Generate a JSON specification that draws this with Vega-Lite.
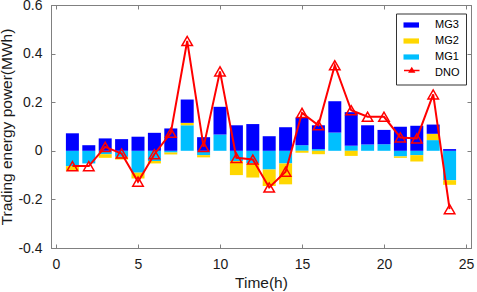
{
  "$schema": "https://vega.github.io/schema/vega-lite/v6.json",
  "width": 420,
  "height": 243,
  "autosize": "none",
  "padding": {"left": 51, "top": 5, "right": 6, "bottom": 44},
  "background": "white",
  "datasets": {
    "bars": [
      {"hour": 1, "series": "MG1", "value": -0.063}, {"hour": 1, "series": "MG2", "value": -0.020}, {"hour": 1, "series": "MG3", "value": 0.072},
      {"hour": 2, "series": "MG1", "value": -0.052}, {"hour": 2, "series": "MG2", "value": 0.0}, {"hour": 2, "series": "MG3", "value": 0.023},
      {"hour": 3, "series": "MG1", "value": -0.014}, {"hour": 3, "series": "MG2", "value": -0.015}, {"hour": 3, "series": "MG3", "value": 0.051},
      {"hour": 4, "series": "MG1", "value": -0.025}, {"hour": 4, "series": "MG2", "value": -0.011}, {"hour": 4, "series": "MG3", "value": 0.048},
      {"hour": 5, "series": "MG1", "value": -0.090}, {"hour": 5, "series": "MG2", "value": -0.024}, {"hour": 5, "series": "MG3", "value": 0.058},
      {"hour": 6, "series": "MG1", "value": -0.042}, {"hour": 6, "series": "MG2", "value": -0.010}, {"hour": 6, "series": "MG3", "value": 0.074},
      {"hour": 7, "series": "MG1", "value": -0.007}, {"hour": 7, "series": "MG2", "value": -0.008}, {"hour": 7, "series": "MG3", "value": 0.092},
      {"hour": 8, "series": "MG1", "value": 0.105}, {"hour": 8, "series": "MG2", "value": 0.010}, {"hour": 8, "series": "MG3", "value": 0.096},
      {"hour": 9, "series": "MG1", "value": -0.018}, {"hour": 9, "series": "MG2", "value": -0.009}, {"hour": 9, "series": "MG3", "value": 0.056},
      {"hour": 10, "series": "MG1", "value": 0.067}, {"hour": 10, "series": "MG2", "value": 0.0}, {"hour": 10, "series": "MG3", "value": 0.114},
      {"hour": 11, "series": "MG1", "value": -0.042}, {"hour": 11, "series": "MG2", "value": -0.058}, {"hour": 11, "series": "MG3", "value": 0.105},
      {"hour": 12, "series": "MG1", "value": -0.052}, {"hour": 12, "series": "MG2", "value": -0.058}, {"hour": 12, "series": "MG3", "value": 0.110},
      {"hour": 13, "series": "MG1", "value": -0.077}, {"hour": 13, "series": "MG2", "value": -0.068}, {"hour": 13, "series": "MG3", "value": 0.060},
      {"hour": 14, "series": "MG1", "value": -0.052}, {"hour": 14, "series": "MG2", "value": -0.086}, {"hour": 14, "series": "MG3", "value": 0.097},
      {"hour": 15, "series": "MG1", "value": 0.023}, {"hour": 15, "series": "MG2", "value": -0.008}, {"hour": 15, "series": "MG3", "value": 0.114},
      {"hour": 16, "series": "MG1", "value": 0.007}, {"hour": 16, "series": "MG2", "value": -0.014}, {"hour": 16, "series": "MG3", "value": 0.098},
      {"hour": 17, "series": "MG1", "value": 0.075}, {"hour": 17, "series": "MG2", "value": 0.0}, {"hour": 17, "series": "MG3", "value": 0.129},
      {"hour": 18, "series": "MG1", "value": 0.021}, {"hour": 18, "series": "MG2", "value": -0.021}, {"hour": 18, "series": "MG3", "value": 0.138},
      {"hour": 19, "series": "MG1", "value": 0.026}, {"hour": 19, "series": "MG2", "value": 0.0}, {"hour": 19, "series": "MG3", "value": 0.079},
      {"hour": 20, "series": "MG1", "value": 0.027}, {"hour": 20, "series": "MG2", "value": 0.0}, {"hour": 20, "series": "MG3", "value": 0.059},
      {"hour": 21, "series": "MG1", "value": -0.023}, {"hour": 21, "series": "MG2", "value": -0.006}, {"hour": 21, "series": "MG3", "value": 0.099},
      {"hour": 22, "series": "MG1", "value": -0.018}, {"hour": 22, "series": "MG2", "value": -0.026}, {"hour": 22, "series": "MG3", "value": 0.103},
      {"hour": 23, "series": "MG1", "value": 0.044}, {"hour": 23, "series": "MG2", "value": 0.026}, {"hour": 23, "series": "MG3", "value": 0.038},
      {"hour": 24, "series": "MG1", "value": -0.121}, {"hour": 24, "series": "MG2", "value": -0.019}, {"hour": 24, "series": "MG3", "value": 0.007}
    ],
    "dno": [
      {"hour": 1, "dno": -0.063}, {"hour": 2, "dno": -0.063}, {"hour": 3, "dno": 0.016}, {"hour": 4, "dno": -0.011},
      {"hour": 5, "dno": -0.127}, {"hour": 6, "dno": -0.014}, {"hour": 7, "dno": 0.074}, {"hour": 8, "dno": 0.452},
      {"hour": 9, "dno": 0.016}, {"hour": 10, "dno": 0.327}, {"hour": 11, "dno": -0.029}, {"hour": 12, "dno": -0.036},
      {"hour": 13, "dno": -0.151}, {"hour": 14, "dno": -0.086}, {"hour": 15, "dno": 0.156}, {"hour": 16, "dno": 0.105},
      {"hour": 17, "dno": 0.352}, {"hour": 18, "dno": 0.167}, {"hour": 19, "dno": 0.140}, {"hour": 20, "dno": 0.140},
      {"hour": 21, "dno": 0.055}, {"hour": 22, "dno": 0.051}, {"hour": 23, "dno": 0.232}, {"hour": 24, "dno": -0.240}
    ]
  },
  "layer": [
    {
      "data": {"name": "bars"},
      "mark": {"type": "bar", "size": 13},
      "encoding": {
        "x": {
          "field": "hour", "type": "quantitative",
          "scale": {"domain": [0, 25], "nice": false, "zero": false},
          "axis": {"orient": "bottom", "values": [0, 5, 10, 15, 20, 25], "title": "Time(h)", "tickSize": -4, "labelPadding": 13, "titlePadding": 4}
        },
        "y": {
          "field": "value", "type": "quantitative", "stack": "zero",
          "scale": {"domain": [-0.4, 0.6], "nice": false},
          "axis": {"orient": "left", "values": [-0.4, -0.2, 0, 0.2, 0.4, 0.6], "title": "Trading energy power(MWh)", "tickSize": -4, "labelPadding": 13, "titlePadding": 3,
                   "labelExpr": "toString(round(datum.value*10)/10)"}
        },
        "color": {
          "field": "series", "type": "nominal",
          "scale": {"domain": ["MG3", "MG2", "MG1", "DNO"], "range": ["#0000FF", "#FFD700", "#00BFFF", "transparent"]},
          "legend": {
            "orient": "none", "legendX": 345, "legendY": 8.5, "title": null,
            "symbolType": "M-0.8,-0.52H2.3V0.52H-0.8Z", "symbolSize": 100, "symbolStrokeWidth": 0,
            "labelFontSize": 11, "labelOffset": 22, "rowPadding": 4, "padding": 6,
            "strokeColor": "#333333", "fillColor": "white"
          }
        },
        "order": {"field": "series", "sort": "ascending"}
      }
    },
    {
      "mark": {"type": "rule", "color": "#a0a0a0", "strokeWidth": 1},
      "encoding": {"y": {"datum": 0, "axis": null}}
    },
    {
      "data": {"name": "dno"},
      "mark": {"type": "line", "strokeWidth": 2},
      "encoding": {
        "x": {"field": "hour", "type": "quantitative",
              "axis": {"orient": "top", "values": [0, 5, 10, 15, 20, 25], "labels": false, "title": null, "tickSize": -4}},
        "y": {"field": "dno", "type": "quantitative",
              "axis": {"orient": "right", "values": [-0.4, -0.2, 0, 0.2, 0.4, 0.6], "labels": false, "title": null, "tickSize": -4}},
        "stroke": {
          "datum": "DNO", "type": "nominal",
          "scale": {"domain": ["DNO"], "range": ["#FF0000"]},
          "legend": {
            "orient": "none", "legendX": 345, "legendY": 53.5, "title": null,
            "symbolType": "M-0.8,0H2.3M0.75,-0.45L1.22,0.32L0.28,0.32Z", "symbolSize": 100, "symbolStrokeWidth": 1.5,
            "symbolFillColor": "#FF0000", "symbolStrokeColor": "#FF0000",
            "labelFontSize": 11, "labelExpr": "''", "padding": 6, "rowPadding": 0
          }
        }
      }
    },
    {
      "data": {"name": "dno"},
      "mark": {"type": "point", "shape": "triangle-up", "filled": false, "size": 110, "stroke": "#FF0000", "strokeWidth": 1.5, "opacity": 1},
      "encoding": {
        "x": {"field": "hour", "type": "quantitative", "axis": null},
        "y": {"field": "dno", "type": "quantitative", "axis": null}
      }
    }
  ],
  "config": {
    "font": "Liberation Sans",
    "view": {"stroke": "#808080", "strokeWidth": 1},
    "axis": {
      "grid": false, "domainColor": "#808080", "tickColor": "#808080", "domainWidth": 1, "tickWidth": 1,
      "labelFont": "Liberation Sans", "labelFontSize": 14, "labelColor": "#1a1a1a",
      "titleFont": "Liberation Sans", "titleFontSize": 15.5, "titleFontWeight": "normal", "titleColor": "#1a1a1a"
    },
    "legend": {"labelFont": "Liberation Sans", "labelColor": "#000000"}
  }
}
